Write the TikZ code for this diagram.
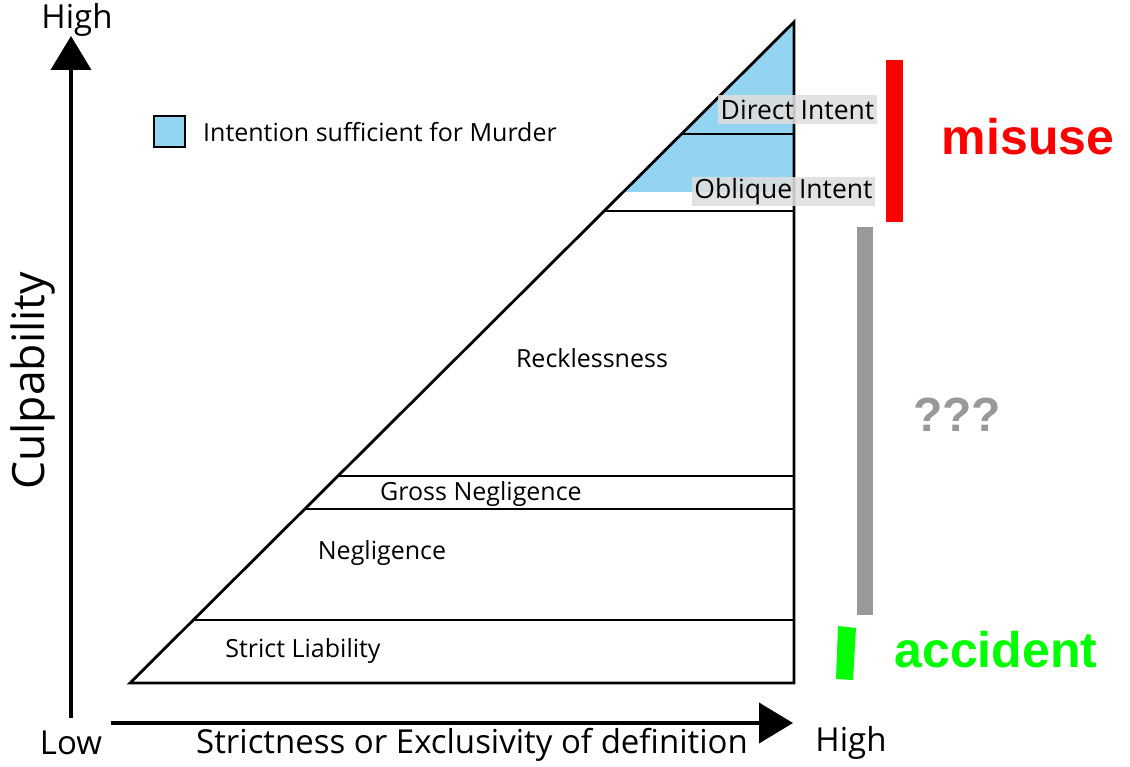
\documentclass[tikz,border=0pt]{standalone}
\usepackage{fontspec}
\setmainfont{Open Sans}
\newfontfamily\tagfont{Liberation Sans}
\usetikzlibrary{arrows.meta}
\definecolor{murderblue}{RGB}{147,212,240}
\definecolor{tagbg}{RGB}{222,222,222}
\definecolor{misusered}{RGB}{255,0,0}
\definecolor{unknowngray}{RGB}{153,153,153}
\definecolor{accidentgreen}{RGB}{0,255,0}
\tikzset{
  axis/.style={line width=4pt, -{Triangle[length=34pt,width=40pt]}},
  edge/.style={line width=2.2pt, line join=miter},
  band/.style={font=\fontsize{25}{30}\selectfont, inner sep=0pt},
  tagbox/.style={font=\fontsize{26.5}{30}\selectfont, inner sep=0pt, fill=tagbg, fill opacity=0.88, text opacity=1, minimum height=29pt},
  axislabel/.style={font=\fontsize{33}{38}\selectfont, inner sep=0pt},
  verdict/.style={font=\tagfont\bfseries\fontsize{50}{56}\selectfont, inner sep=0pt},
}
\begin{document}
\begin{tikzpicture}[x=1pt,y=-1pt]
\useasboundingbox (0,0) rectangle (1130,767);

% triangle corners and the levels of the bands
\coordinate (bl) at (130,683);
\coordinate (br) at (794,683);
\coordinate (apex) at (794,22);
\coordinate (blueR) at (794,192);
\coordinate (blueL) at (623,192);
\coordinate (diL) at (681.5,134);  \coordinate (diR) at (794,134);
\coordinate (obL) at (604,211);    \coordinate (obR) at (794,211);
\coordinate (gnTL) at (338,476);   \coordinate (gnTR) at (794,476);
\coordinate (gnBL) at (305,509);   \coordinate (gnBR) at (794,509);
\coordinate (slL) at (193,620);    \coordinate (slR) at (794,620);

% intention region
\fill[murderblue] (apex) -- (blueR) -- (blueL) -- cycle;

% triangle outline and bands
\draw[line width=2.8pt, line join=miter] (bl) -- (apex) -- (br) -- cycle;
\draw[edge] (diL) -- (diR);
\draw[edge] (obL) -- (obR);
\draw[edge] (gnTL) -- (gnTR);
\draw[edge] (gnBL) -- (gnBR);
\draw[edge] (slL) -- (slR);

% band labels
\node[tagbox, minimum width=159pt] (direct) at (797.5,109.5) {Direct Intent};
\node[tagbox, minimum width=183pt] (oblique) at (783.5,191.5) {Oblique Intent};
\node[band] (reck) at (592,358) {Recklessness};
\node[band] (gross) at (481,494) {Gross Negligence};
\node[band] (negl) at (382,553) {Negligence};
\node[band] (strict) at (303,651) {Strict Liability};

% legend
\node[draw, line width=2.5pt, fill=murderblue, minimum size=31pt, inner sep=0pt] (key) at (169.5,131.5) {};
\node[band, anchor=west] (keytext) at (203,132) {Intention sufficient for Murder};

% axes
\coordinate (yfoot) at (71,718);
\coordinate (ytip) at (71,36);
\coordinate (xfoot) at (111,723);
\coordinate (xtip) at (793,723);
\draw[axis] (yfoot) -- (ytip);
\draw[axis] (xfoot) -- (xtip);
\node[axislabel] (yhigh) at (77,20) {High};
\node[axislabel] (ylow) at (71,743) {Low};
\node[axislabel] (xhigh) at (851,743) {High};
\node[axislabel] (xtitle) at (472,745) {Strictness or Exclusivity of definition};
\node[font=\fontsize{44.5}{50}\selectfont, inner sep=0pt, rotate=90] (ytitle) at (33,381) {Culpability};

% verdict bars
\fill[misusered] (886,60) rectangle (903,222);
\fill[unknowngray] (857,227) rectangle (873,615);
\fill[accidentgreen] (838,626) -- (856,628) -- (853,680) -- (836,679) -- cycle;
\node[verdict, text=misusered] (misuse) at (1028,137) {misuse};
\node[verdict, text=unknowngray, font=\tagfont\bfseries\fontsize{48}{54}\selectfont] (unknown) at (957,415) {???};
\node[verdict, text=accidentgreen] (accident) at (996,650) {accident};
\end{tikzpicture}
\end{document}
